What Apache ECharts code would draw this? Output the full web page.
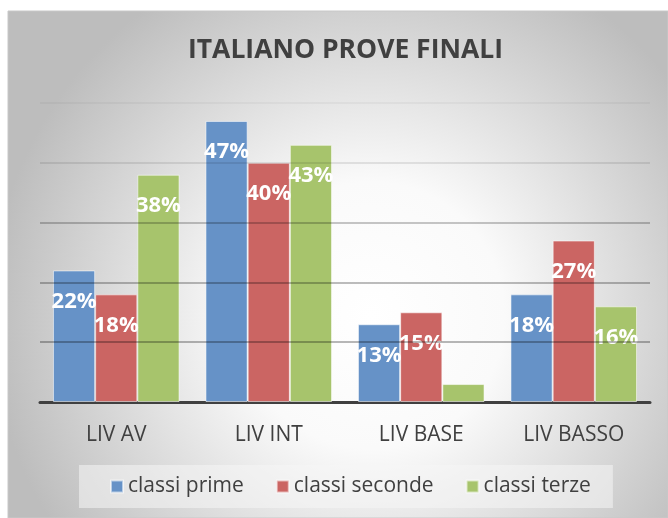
<!DOCTYPE html>
<html>
<head>
<meta charset="utf-8">
<script src="https://cdn.jsdelivr.net/npm/echarts@6/dist/echarts.min.js"></script>
<style>
  html, body { margin: 0; padding: 0; background: #fff; }
  #main { width: 668px; height: 518px; }
</style>
</head>
<body>
<div id="main"></div>
<script>
// dati
var livelli = ['LIV AV', 'LIV INT', 'LIV BASE', 'LIV BASSO'];
var classiPrime = [22, 47, 13, 18];
var classiSeconde = [18, 40, 15, 27];
var classiTerze = [38, 43, 3, 16];
var nomiSerie = ['classi prime', 'classi seconde', 'classi terze'];
var colori = ['#6692c7', '#cb6563', '#a7c46c'];

var font = '"Open Sans", sans-serif';

function serie(nome, valori, colore) {
    return {
        name: nome,
        type: 'bar',
        barGap: 0,
        barCategoryGap: '17%',
        itemStyle: { color: colore, borderColor: 'rgba(255,255,255,0.55)', borderWidth: 1 },
        label: {
            show: true,
            position: 'insideTop',
            distance: 20,
            color: '#fff',
            fontFamily: font,
            fontWeight: 'bold',
            fontSize: 22,
            formatter: '{c}%'
        },
        // l'etichetta del valore piccolo non compare
        data: valori.map(function (v) {
            return v < 5 ? { value: v, label: { show: false } } : v;
        })
    };
}

var myChart = echarts.init(document.getElementById('main'));
myChart.setOption({
    animation: false,
    graphic: [{
        type: 'rect',
        z: -10,
        shape: { x: 8, y: 11, width: 660, height: 507 },
        style: {
            fill: {
                type: 'radial', x: 0.55, y: 0.6, r: 0.75,
                colorStops: [
                    { offset: 0, color: '#ffffff' },
                    { offset: 0.35, color: '#fafafa' },
                    { offset: 1, color: '#bdbdbd' }
                ]
            },
            stroke: '#c8c8c8',
            lineWidth: 1
        }
    }],
    title: {
        text: 'ITALIANO PROVE FINALI',
        left: 183,
        top: 32,
        textStyle: { color: '#404040', fontFamily: font, fontWeight: 'bold', fontSize: 26.5 }
    },
    legend: {
        data: nomiSerie,
        left: 79,
        top: 465,
        padding: [11, 22, 11, 31],
        backgroundColor: 'rgba(245,245,245,0.55)',
        itemWidth: 12,
        itemHeight: 12,
        itemGap: 32,
        icon: 'rect',
        textStyle: { color: '#404040', fontFamily: font, fontSize: 21 }
    },
    grid: { left: 40, right: 18, top: 103, bottom: 116 },
    xAxis: {
        type: 'category',
        data: livelli,
        axisLine: { lineStyle: { color: '#404040', width: 3 } },
        axisTick: { show: false },
        axisLabel: { color: '#404040', fontFamily: font, fontSize: 21, margin: 23 }
    },
    yAxis: {
        type: 'value',
        min: 0,
        max: 50,
        interval: 10,
        z: 3,
        axisLabel: { show: false },
        axisLine: { show: false },
        axisTick: { show: false },
        splitLine: {
            lineStyle: {
                width: 2,
                color: ['rgba(0,0,0,0)', 'rgba(0,0,0,0.28)', 'rgba(0,0,0,0.26)', 'rgba(0,0,0,0.22)',
                        'rgba(0,0,0,0.09)', 'rgba(0,0,0,0.035)']
            }
        }
    },
    series: [
        serie(nomiSerie[0], classiPrime, colori[0]),
        serie(nomiSerie[1], classiSeconde, colori[1]),
        serie(nomiSerie[2], classiTerze, colori[2])
    ]
});
</script>
</body>
</html>
